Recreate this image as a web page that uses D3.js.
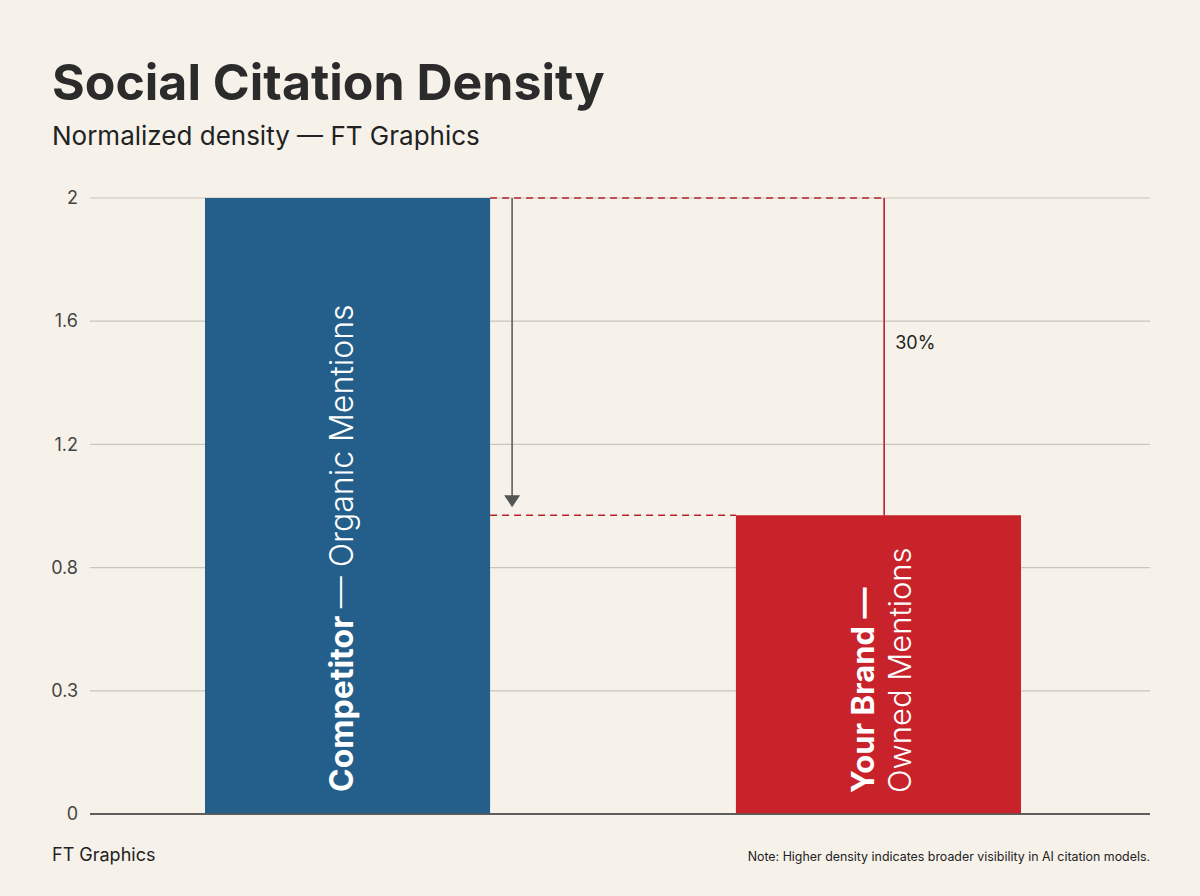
<!DOCTYPE html>
<html><head><meta charset="utf-8">
<script src="https://cdn.jsdelivr.net/npm/d3@7"></script>
<style>
html,body{margin:0;padding:0;background:#f6f2ea;}
svg{display:block;font-family:Inter,"Liberation Sans",sans-serif;}
</style></head>
<body><svg id="c" width="1200" height="896"></svg>
<script>
const categories = ["Competitor", "Your Brand"];
const labelBold = ["Competitor", "Your Brand —"];
const labelLight = ["— Organic Mentions", "Owned Mentions"];
const values = [2, 0.97];
const colors = ["#245f8b", "#c8232b"];
const tickValues = [0, 0.4, 0.8, 1.2, 1.6, 2];
const tickLabels = ["0", "0.3", "0.8", "1.2", "1.6", "2"];
const diffLabel = "30%";

const svg = d3.select("#c");
svg.append("rect").attr("width",1200).attr("height",896).attr("fill","#f6f2ea");

const x = d3.scaleBand().domain(categories).range([90,1136]).paddingInner(0.463).paddingOuter(0.2166);
const y = d3.scaleLinear().domain([0,2]).range([814,198]);

// title
svg.append("text").attr("x",52).attr("y",100).attr("font-size",50).attr("font-weight",700)
  .attr("fill","#2b2b2b").text("Social Citation Density");
svg.append("text").attr("x",52).attr("y",145).attr("font-size",26).attr("font-weight",400)
  .attr("fill","#222").text("Normalized density — FT Graphics");

// grid + axis
const yAxis = d3.axisLeft(y).tickValues(tickValues).tickSize(0).tickPadding(12)
  .tickFormat((d,i)=>tickLabels[i]);
const ga = svg.append("g").attr("transform","translate(90,0)").call(yAxis);
ga.select(".domain").remove();
ga.selectAll("text").attr("font-size",18).attr("fill","#444").attr("font-family","Inter,'Liberation Sans',sans-serif");

svg.append("g").selectAll("line").data(tickValues).join("line")
  .attr("x1",90).attr("x2",1150).attr("y1",d=>y(d)).attr("y2",d=>y(d))
  .attr("stroke",d=>d===0?"#555":"#c9c6be").attr("stroke-width",d=>d===0?1.5:1.2);

// bars
svg.append("g").selectAll("rect").data(categories).join("rect")
  .attr("x",d=>x(d)).attr("width",x.bandwidth())
  .attr("y",(d,i)=>y(values[i])).attr("height",(d,i)=>y(0)-y(values[i]))
  .attr("fill",(d,i)=>colors[i]);
svg.append("line").attr("x1",90).attr("x2",1150).attr("y1",y(0)).attr("y2",y(0)).attr("stroke","#555").attr("stroke-width",1.5);

// annotations
const x0end = x(categories[0]) + x.bandwidth();
const x1start = x(categories[1]);
const vx = x1start + x.bandwidth()*0.52;
svg.append("line").attr("x1",x0end).attr("x2",vx).attr("y1",y(values[0])).attr("y2",y(values[0]))
  .attr("stroke","#b5232b").attr("stroke-width",1.5).attr("stroke-dasharray","7,5");
svg.append("line").attr("x1",x0end).attr("x2",x1start).attr("y1",y(values[1])).attr("y2",y(values[1]))
  .attr("stroke","#b5232b").attr("stroke-width",1.5).attr("stroke-dasharray","7,5");
svg.append("line").attr("x1",vx).attr("x2",vx).attr("y1",y(values[0])).attr("y2",y(values[1]))
  .attr("stroke","#b5232b").attr("stroke-width",1.6);
svg.append("text").attr("x",vx+11).attr("y",349).attr("font-size",18).attr("fill","#222").text(diffLabel);

const ax = x0end + 22;
svg.append("line").attr("x1",ax).attr("x2",ax).attr("y1",y(values[0])).attr("y2",y(values[1])-14)
  .attr("stroke","#555").attr("stroke-width",1.5);
svg.append("path").attr("d",`M${ax-8},${y(values[1])-20} L${ax+8},${y(values[1])-20} L${ax},${y(values[1])-8} Z`).attr("fill","#555");

// bar labels
const cx0 = x(categories[0]) + x.bandwidth()/2;
const t0 = svg.append("text").attr("transform",`translate(${cx0+5},792) rotate(-90)`)
  .attr("font-size",32).attr("fill","#fff");
t0.append("tspan").attr("font-weight",700).text(labelBold[0]+" ");
t0.append("tspan").attr("font-weight",300).text(labelLight[0]);

const cx1 = x(categories[1]) + x.bandwidth()/2;
svg.append("text").attr("transform",`translate(${cx1-4.5},793) rotate(-90)`)
  .attr("font-size",31).attr("font-weight",700).attr("fill","#fff").text(labelBold[1]);
svg.append("text").attr("transform",`translate(${cx1+33},793) rotate(-90)`)
  .attr("font-size",31).attr("font-weight",300).attr("fill","#fff").text(labelLight[1]);

// footer
svg.append("text").attr("x",52).attr("y",861).attr("font-size",18).attr("fill","#222").text("FT Graphics");
svg.append("text").attr("x",1150).attr("y",861).attr("text-anchor","end").attr("font-size",12.4).attr("fill","#222")
  .text("Note: Higher density indicates broader visibility in AI citation models.");
</script></body></html>
